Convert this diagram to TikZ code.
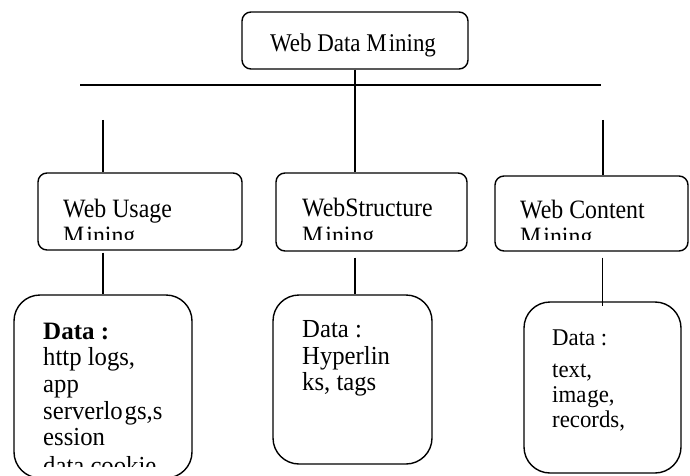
\documentclass[tikz,border=0pt]{standalone}
\usepackage{fontspec}
\setmainfont{Liberation Serif}
\newfontfamily\lblfont{Liberation Serif}[FakeStretch=0.9]
\newfontfamily\datfont{Liberation Serif}[FakeStretch=0.95]
\tikzset{
  box/.style={draw, line width=1.4pt, rounded corners=9pt, inner sep=0pt},
  dbox/.style={draw, line width=1.4pt, rounded corners=26pt, inner sep=0pt},
  conn/.style={line width=1.4pt},
  lbl/.style={anchor=base west, inner sep=0pt, font=\lblfont\fontsize{26.5}{28}\selectfont},
  dat/.style={anchor=base west, inner sep=0pt, font=\datfont\fontsize{26}{26}\selectfont},
  datr/.style={dat, font=\datfont\fontsize{24}{24}\selectfont},
}
\begin{document}
\begin{tikzpicture}[x=1pt,y=-1pt]
\useasboundingbox (0,0) rectangle (690,476);
% boxes
\node[box, minimum width=226, minimum height=57] (top) at (355,40.5) {};
\node[box, minimum width=204, minimum height=77] (uL) at (140,211.5) {};
\node[box, minimum width=191, minimum height=78] (uM) at (371.5,212) {};
\node[box, minimum width=193, minimum height=75] (uR) at (591.5,213.5) {};
\node[dbox, minimum width=178, minimum height=183] (dL) at (103,386.5) {};
\node[dbox, minimum width=159, minimum height=169] (dM) at (352.5,379.5) {};
\node[dbox, minimum width=157, minimum height=171] (dR) at (602.5,387.5) {};
% title
\node[lbl, anchor=base, font=\lblfont\fontsize{25.5}{28}\selectfont] (tt) at (353,52) {Web Data M\kern2pt ining};
% connectors
\coordinate (hl) at (80,85);
\coordinate (hr) at (601,85);
\coordinate (vl) at (103,120);
\coordinate (vr) at (603,120);
\draw[conn] (hl) -- (hr);
\draw[conn] (top.south) -- (top.south |- uM.north);
\draw[conn] (vl) -- (vl |- uL.north);
\draw[conn] (vr) -- (vr |- uR.north);
\draw[conn] ([yshift=-2]dL.north |- uL.south) -- (dL.north);
\draw[conn] ([yshift=-6]top.south |- uM.south) -- (top.south |- dM.north);
\draw[conn] ([yshift=-6]dR.north |- uR.south) -- ([yshift=-5]dR.north);
% level 2 labels
\node[lbl] (tL1) at (63,217) {Web Usage};
\node[lbl] (tM1) at (302,216) {WebStructure};
\node[lbl] (tR1) at (520,218) {Web Content};
\begin{scope}
\clip (0,0) rectangle (690,239);
\node[lbl] (tL2) at (63,244) {M\kern2pt ining};
\node[lbl] (tM2) at (302,244) {M\kern2pt ining};
\node[lbl] (tR2) at (520,245) {M\kern2pt ining};
\end{scope}
% data texts
\node[dat, font=\fontsize{25}{26}\selectfont] (a1) at (43,339) {\bfseries Data :};
\node[dat] (a2) at (43,365) {http logs,};
\node[dat] (a3) at (43,392) {app};
\node[dat] (a4) at (43,419) {serverlo\kern2pt gs,s};
\node[dat] (a5) at (43,445) {ession};
\begin{scope}
\clip (0,0) rectangle (690,466);
\node[dat] (a6) at (43,474) {data,cookie};
\end{scope}
\node[dat] (b1) at (302,337) {Data :};
\node[dat] (b2) at (302,364) {Hyperlin};
\node[dat] (b3) at (302,390) {ks, tags};
\node[datr] (c1) at (552,345) {Data :};
\node[datr] (c2) at (552,377) {text,};
\node[datr] (c3) at (552,402) {ima\kern1pt ge,};
\node[datr] (c4) at (552,427) {records,};
\end{tikzpicture}
\end{document}
